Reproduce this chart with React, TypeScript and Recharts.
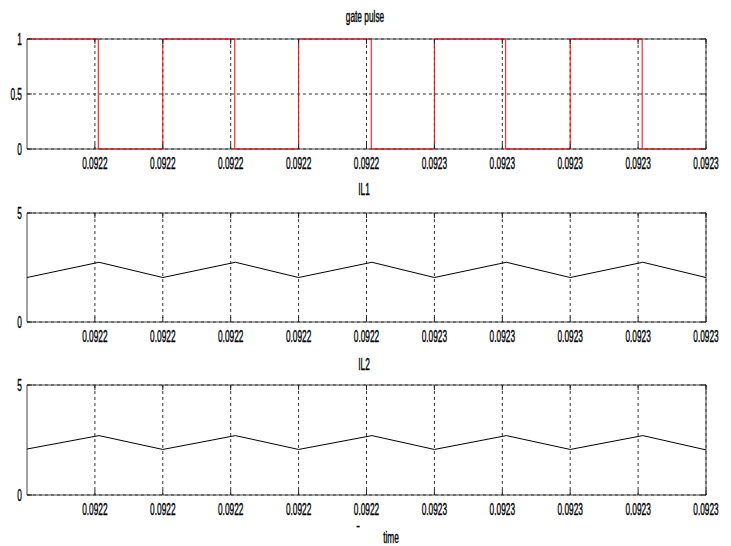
import { LineChart, Line, XAxis, YAxis, CartesianGrid, ReferenceArea } from "recharts";

// x positions are in tick units (0..10), labels as printed on the scope plot
const tickPos = [1, 2, 3, 4, 5, 6, 7, 8, 9, 10];
const tickLabels = ["0.0922", "0.0922", "0.0922", "0.0922", "0.0922", "0.0923", "0.0923", "0.0923", "0.0923", "0.0923"];

// gate pulse (square wave, duplicated times give the vertical edges)
const gateT = [0, 1.05, 1.05, 2, 2, 3.06, 3.06, 4, 4, 5.07, 5.07, 6, 6, 7.05, 7.05, 8, 8, 9.06, 9.06, 10];
const gateV = [1, 1, 0, 0, 1, 1, 0, 0, 1, 1, 0, 0, 1, 1, 0, 0, 1, 1, 0, 0];

// inductor currents, peaks / valleys
const ilT = [0, 1.06, 2, 3.07, 4, 5.08, 6, 7.06, 8, 9.07, 10];
const il1 = [2.04, 2.74, 2.04, 2.74, 2.04, 2.74, 2.04, 2.74, 2.04, 2.74, 2.04];
const il2 = [2.09, 2.7, 2.07, 2.7, 2.07, 2.7, 2.07, 2.7, 2.07, 2.7, 2.05];

const FONT = "Liberation Sans, Arial, sans-serif";
const W = 731;
const PLOT_W = 679;
const LEFT = 27;

type Pt = { t: number; v: number };
const zip = (t: number[], v: number[]): Pt[] => t.map((x, i) => ({ t: x, v: v[i] }));

function Panel({ top, plotH, data, color, yMax, yTicks }: {
  top: number; plotH: number; data: Pt[]; color: string; yMax: number; yTicks: number[];
}) {
  const mt = 12;
  const XTick = (p: any) => {
    const { x, y, payload } = p;
    const lbl = tickLabels[tickPos.indexOf(payload.value)];
    return (
      <g>
        <line x1={x} x2={x} y1={y} y2={y - 5} stroke="#222" />
        <line x1={x} x2={x} y1={y - plotH} y2={y - plotH + 5} stroke="#222" />
        <text transform={`translate(${x},${y + 20}) scale(0.52,1)`} textAnchor="middle" fontSize={16} fontFamily={FONT} fill="#000" stroke="#000" strokeWidth={0.4}>{lbl}</text>
      </g>
    );
  };
  const YTick = (p: any) => {
    const { x, y, payload } = p;
    return (
      <g>
        <line x1={x} x2={x + 5} y1={y} y2={y} stroke="#222" />
        <line x1={x + PLOT_W} x2={x + PLOT_W - 5} y1={y} y2={y} stroke="#222" />
        <text transform={`translate(${x - 5},${y + 6}) scale(0.52,1)`} textAnchor="end" fontSize={16} fontFamily={FONT} fill="#000" stroke="#000" strokeWidth={0.4}>{String(payload.value)}</text>
      </g>
    );
  };
  return (
    <div style={{ position: "absolute", left: 0, top: top - mt }}>
      <LineChart width={W} height={mt + plotH + 30} margin={{ top: mt, right: W - LEFT - PLOT_W, bottom: 0, left: 0 }}>
        <CartesianGrid stroke="#333" strokeDasharray="3 3" horizontalValues={yTicks} verticalValues={tickPos} />
        <XAxis dataKey="t" type="number" domain={[0, 10]} ticks={tickPos} height={30} tickSize={0} tickMargin={0} tickLine={false} axisLine={false} tick={XTick} interval={0} />
        <YAxis type="number" domain={[0, yMax]} ticks={yTicks} width={LEFT} tickSize={0} tickMargin={0} tickLine={false} axisLine={false} tick={YTick} interval={0} />
        <ReferenceArea x1={0} x2={10} y1={0} y2={yMax} fill="none" stroke="#444" strokeOpacity={1} ifOverflow="visible" />
        <Line data={data} dataKey="v" type="linear" stroke={color} strokeWidth={1} dot={false} activeDot={false} isAnimationActive={false} />
      </LineChart>
    </div>
  );
}

export default function App() {
  const txt = { fontFamily: FONT, fill: "#000", stroke: "#000", strokeWidth: 0.4 };
  return (
    <div style={{ position: "absolute", left: 0, top: 0, width: W, height: 546, background: "#fff" }}>
      <Panel top={39} plotH={110} data={zip(gateT, gateV)} color="#ff0000" yMax={1} yTicks={[0, 0.5, 1]} />
      <Panel top={213} plotH={109} data={zip(ilT, il1)} color="#000" yMax={5} yTicks={[0, 5]} />
      <Panel top={385} plotH={110} data={zip(ilT, il2)} color="#000" yMax={5} yTicks={[0, 5]} />
      <svg width={W} height={546} style={{ position: "absolute", left: 0, top: 0, pointerEvents: "none" }}>
        <text transform="translate(365,22) scale(0.52,1)" textAnchor="middle" fontSize={16} {...txt}>gate pulse</text>
        <text transform="translate(364,195) scale(0.52,1)" textAnchor="middle" fontSize={16} {...txt}>IL1</text>
        <text transform="translate(364,370) scale(0.52,1)" textAnchor="middle" fontSize={16} {...txt}>IL2</text>
        <text transform="translate(358,531) scale(0.8,1)" textAnchor="middle" fontSize={14} {...txt}>-</text>
        <text transform="translate(391,543) scale(0.52,1)" textAnchor="middle" fontSize={16} {...txt}>time</text>
      </svg>
    </div>
  );
}
